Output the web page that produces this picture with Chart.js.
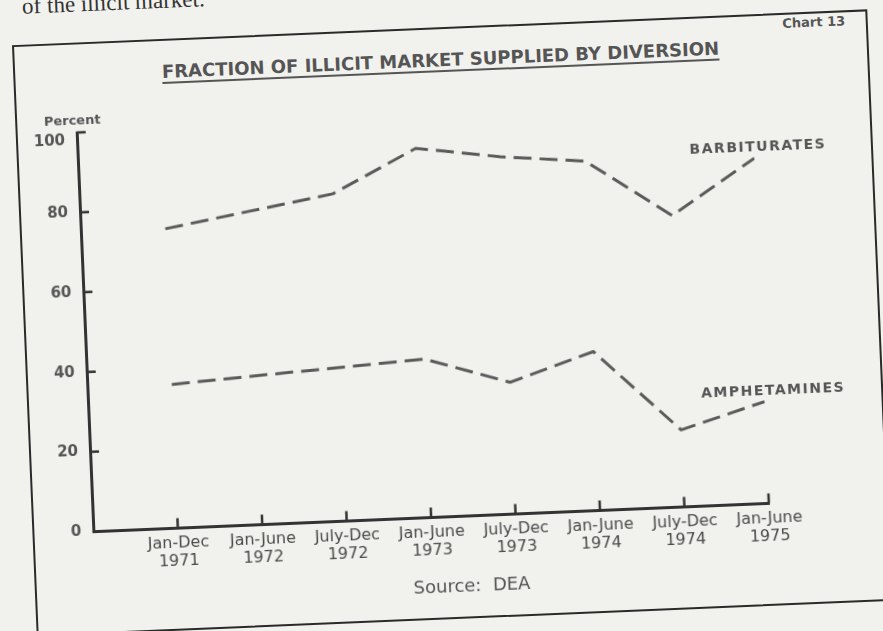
<!DOCTYPE html>
<html lang="en">
<head>
    <meta charset="UTF-8">
    <title>Fraction of Illicit Market Supplied by Diversion</title>
    <script src="https://cdn.jsdelivr.net/npm/chart.js@4.4.0/dist/chart.umd.min.js"></script>
    <style>
        body {
            margin: 0;
            width: 883px;
            height: 631px;
            overflow: hidden;
            background: #f1f1ee;
            position: relative;
            font-family: "DejaVu Sans", sans-serif;
        }
        .page-text {
            position: absolute;
            left: 22px;
            top: -10px;
            font-family: "Liberation Serif", serif;
            font-size: 23px;
            color: #333;
            transform: rotate(-2.4deg);
        }
        .frame {
            position: absolute;
            left: 24px;
            top: 27px;
            width: 856px;
            height: 592px;
            box-sizing: border-box;
            border: 2.5px solid #2a2a2a;
            transform: rotate(-2.4deg);
        }
        .chart-box {
            position: absolute;
            left: 0;
            top: 0;
            width: 851px;
            height: 587px;
        }
        .title {
            position: absolute;
            left: 0;
            width: 851px;
            top: 20px;
            text-align: center;
            font-size: 18px;
            font-weight: bold;
            line-height: 22px;
            color: #555;
            text-decoration: underline;
            text-decoration-thickness: 2px;
            text-underline-offset: 4px;
        }
        .chart-no {
            position: absolute;
            left: 755px;
            width: 90px;
            top: 1px;
            text-align: center;
            font-size: 13px;
            font-weight: bold;
            color: #555;
            line-height: 16px;
        }
        .source {
            position: absolute;
            left: 0;
            width: 870px;
            top: 546px;
            text-align: center;
            font-size: 18px;
            color: #555;
            white-space: pre;
            line-height: 22px;
        }
    </style>
</head>
<body>
    <div class="page-text">of the illicit market.</div>
    <div class="frame">
        <div class="chart-no">Chart 13</div>
        <div class="title">FRACTION OF ILLICIT MARKET SUPPLIED BY DIVERSION</div>
        <div class="chart-box"><canvas id="diversionChart"></canvas></div>
        <div class="source">Source:  DEA</div>
    </div>

    <script>
        const periods = ['Jan-Dec 1971', 'Jan-June 1972', 'July-Dec 1972', 'Jan-June 1973',
                         'July-Dec 1973', 'Jan-June 1974', 'July-Dec 1974', 'Jan-June 1975'];
        const barbiturates = [75, 78.5, 82, 92.5, 89.5, 87.5, 73, 86.5];
        const amphetamines = [36, 37.3, 38.5, 39.7, 33, 39.8, 19.3, 25.5];
        const seriesNames = ['BARBITURATES', 'AMPHETAMINES'];

        const ink = '#333';
        const grey = '#555';
        const yFont = 'bold 15px "DejaVu Sans"';

        // ticks point inward in the original, plus the "Percent" caption and line labels
        const decorations = {
            id: 'decorations',
            afterDatasetsDraw(chart) {
                const { ctx, chartArea, scales: { x, y } } = chart;
                ctx.save();
                ctx.strokeStyle = ink;
                ctx.lineWidth = 2.5;
                y.ticks.forEach(t => {
                    const py = y.getPixelForValue(t.value);
                    ctx.beginPath();
                    ctx.moveTo(chartArea.left, py);
                    ctx.lineTo(chartArea.left + 9, py);
                    ctx.stroke();
                });
                periods.forEach((p, i) => {
                    const px = x.getPixelForValue(i);
                    ctx.beginPath();
                    ctx.moveTo(px, chartArea.bottom);
                    ctx.lineTo(px, chartArea.bottom - 10);
                    ctx.stroke();
                });

                ctx.fillStyle = grey;
                ctx.textBaseline = 'middle';
                // the top label sits a little under its tick in the original
                ctx.textAlign = 'right';
                ctx.font = yFont;
                ctx.fillText(String(y.max), chartArea.left - 12, y.getPixelForValue(y.max) + 8);

                ctx.textAlign = 'center';
                ctx.font = 'bold 13px "DejaVu Sans"';
                ctx.fillText('Percent', chartArea.left - 4, chartArea.top - 11);

                ctx.font = 'bold 14px "DejaVu Sans"';
                ctx.letterSpacing = '1.5px';
                const offsets = [[4, -11], [9, -10]];
                chart.data.datasets.forEach((ds, k) => {
                    const meta = chart.getDatasetMeta(k);
                    const last = meta.data[meta.data.length - 1];
                    ctx.fillText(seriesNames[k], last.x + offsets[k][0], last.y + offsets[k][1]);
                });
                ctx.restore();
            }
        };

        const lineStyle = {
            borderColor: '#5a5a5a',
            borderWidth: 3,
            borderDash: [18, 8],
            pointRadius: 0,
            fill: false,
            tension: 0
        };

        new Chart(document.getElementById('diversionChart'), {
            type: 'line',
            data: {
                datasets: [
                    { label: seriesNames[0], data: barbiturates.map((v, i) => ({ x: i, y: v })), ...lineStyle },
                    { label: seriesNames[1], data: amphetamines.map((v, i) => ({ x: i, y: v })), ...lineStyle }
                ]
            },
            options: {
                responsive: true,
                maintainAspectRatio: false,
                animation: false,
                layout: { padding: { top: 88, right: 116, left: 0, bottom: 0 } },
                plugins: {
                    legend: { display: false },
                    tooltip: { enabled: false }
                },
                scales: {
                    x: {
                        type: 'linear',
                        min: -1,
                        max: 7,
                        afterFit: s => { s.height = 99.5; },
                        grid: { drawOnChartArea: false, drawTicks: false },
                        border: { color: ink, width: 3 },
                        ticks: {
                            stepSize: 1,
                            autoSkip: false,
                            maxRotation: 0,
                            padding: 7,
                            color: '#4a4a4a',
                            font: { family: 'DejaVu Sans', size: 16, lineHeight: 1.08 },
                            callback: v => (v >= 0 && periods[v]) ? periods[v].split(' ') : ''
                        }
                    },
                    y: {
                        min: 0,
                        max: 100,
                        afterFit: s => { s.width = 59; },
                        grid: { drawOnChartArea: false, drawTicks: false },
                        border: { color: ink, width: 3 },
                        ticks: {
                            stepSize: 20,
                            padding: 12,
                            color: grey,
                            font: { family: 'DejaVu Sans', size: 15, weight: 'bold' },
                            callback: v => v === 100 ? '' : v
                        }
                    }
                }
            },
            plugins: [decorations]
        });
    </script>
</body>
</html>
